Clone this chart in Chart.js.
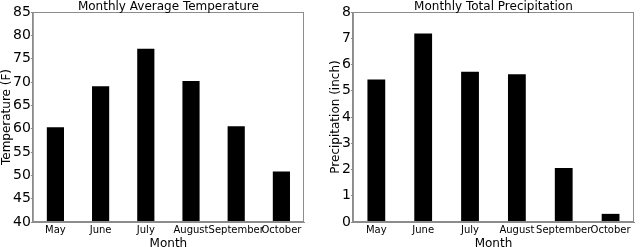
<!DOCTYPE html>
<html>
<head>
<meta charset="utf-8">
<script src="https://cdn.jsdelivr.net/npm/chart.js@4.4.1/dist/chart.umd.min.js"></script>
<style>
  html, body { margin: 0; padding: 0; background: #fff; }
  #wrap { display: flex; width: 640px; height: 247px; }
  .box { position: relative; width: 320px; height: 247px; }
</style>
</head>
<body>
<div id="wrap">
  <div class="box"><canvas id="tempChart" width="320" height="247"></canvas></div>
  <div class="box"><canvas id="precipChart" width="320" height="247"></canvas></div>
</div>
<script>
// ===== DATA =====
const months = ["May", "June", "July", "August", "September", "October"];
const avgTemp = [60.3, 69.1, 77.1, 70.2, 60.5, 50.8];
const totalPrecip = [5.43, 7.18, 5.72, 5.63, 2.06, 0.31];
const tempTicks = [40, 45, 50, 55, 60, 65, 70, 75, 80, 85];
const precipTicks = [0, 1, 2, 3, 4, 5, 6, 7, 8];

const FONT = "'DejaVu Sans', sans-serif";
const SPINE = "#8c8c8c";

// box round the plot (matplotlib spines) + title centred over the plot area
const frameBox = {
    id: 'frameBox',
    afterDraw(chart, args, opts) {
        const a = chart.chartArea;
        const c = chart.ctx;
        c.save();
        c.strokeStyle = SPINE;
        c.lineWidth = 1;
        c.strokeRect(a.left + 0.5, a.top + 0.5, a.right - a.left - 1, a.bottom - a.top - 1);
        c.fillStyle = '#000';
        c.font = "12px " + FONT;
        c.textAlign = 'center';
        c.textBaseline = 'alphabetic';
        c.fillText(opts.text, (a.left + a.right) / 2, a.top - 2);
        c.restore();
    }
};

function makeChart(id, title, yTitle, values, ticks, pad) {
    return new Chart(document.getElementById(id), {
        type: 'bar',
        data: {
            labels: months,
            datasets: [{
                data: values,
                backgroundColor: '#000',
                borderWidth: 0,
                barPercentage: 0.38,
                categoryPercentage: 1.0
            }]
        },
        options: {
            responsive: false,
            animation: false,
            layout: { padding: pad },
            plugins: {
                legend: { display: false },
                tooltip: { enabled: false },
                title: { display: false },
                frameBox: { text: title }
            },
            scales: {
                x: {
                    grid: { display: false, drawTicks: false, tickLength: 0 },
                    border: { color: SPINE },
                    ticks: { color: '#000', font: { family: FONT, size: 10 }, maxRotation: 0, autoSkip: false, padding: 2 },
                    title: { display: true, text: 'Month', color: '#000', font: { family: FONT, size: 12, lineHeight: 1.0 }, padding: { top: 0, bottom: 0 } }
                },
                y: {
                    min: ticks[0],
                    max: ticks[ticks.length - 1],
                    afterBuildTicks: axis => { axis.ticks = ticks.map(v => ({ value: v })); },
                    grid: { drawOnChartArea: false, tickLength: 2, color: SPINE },
                    border: { color: SPINE },
                    ticks: { color: '#000', font: { family: FONT, size: 14 }, padding: 0 },
                    title: { display: true, text: yTitle, color: '#000', font: { family: FONT, size: 12, lineHeight: 1.0 }, padding: { top: 0, bottom: 0 } }
                }
            }
        },
        plugins: [frameBox]
    });
}

makeChart('tempChart', 'Monthly Average Temperature', 'Temperature (F)', avgTemp, tempTicks,
    { left: 1, right: 16, top: 12, bottom: -3 });
makeChart('precipChart', 'Monthly Total Precipitation', 'Precipitation (inch)', totalPrecip, precipTicks,
    { left: 10, right: 6, top: 12, bottom: -3 });
</script>
</body>
</html>
